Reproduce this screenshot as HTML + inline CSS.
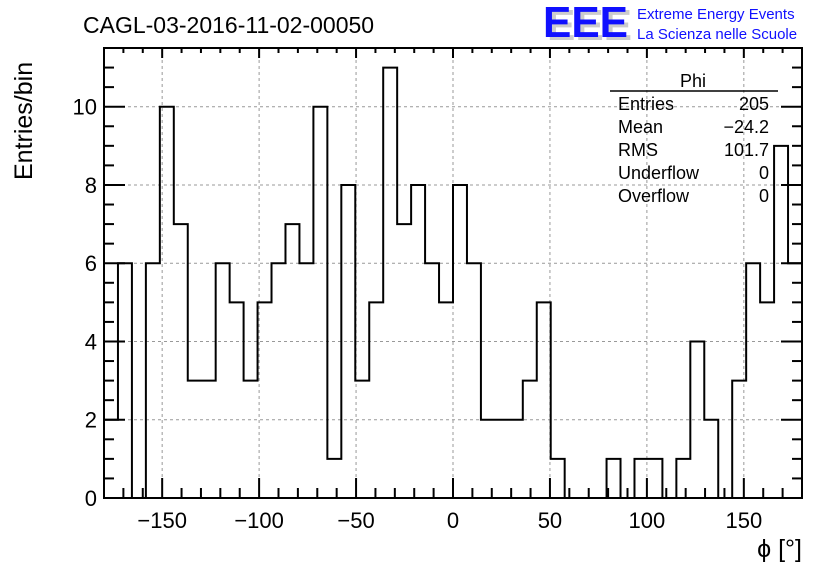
<!DOCTYPE html>
<html><head><meta charset="utf-8"><style>
html,body{margin:0;padding:0;background:#fff;}
svg{display:block;font-family:"Liberation Sans",sans-serif;}
</style></head><body>
<svg id="chart" width="836" height="572" viewBox="0 0 836 572" xmlns="http://www.w3.org/2000/svg">
<rect x="0" y="0" width="836" height="572" fill="#fff"/>
<text x="83" y="33" font-size="23" fill="#000">CAGL-03-2016-11-02-00050</text>
<g>
<text x="547" y="40" font-size="44" font-weight="bold" fill="#ccc" textLength="85" lengthAdjust="spacingAndGlyphs">EEE</text>
<text x="543" y="37" font-size="44" font-weight="bold" fill="#1010ff" textLength="85" lengthAdjust="spacingAndGlyphs">EEE</text>
<text x="637" y="19" font-size="15" fill="#1010ff">Extreme Energy Events</text>
<text x="637" y="39" font-size="15" fill="#1010ff">La Scienza nelle Scuole</text>
</g>
<g id="grid"></g>
<g id="axes"></g>
<path id="hist" fill="none" stroke="#000" stroke-width="2"/>
<rect x="104" y="48" width="698" height="450" fill="none" stroke="#000" stroke-width="2"/>
<text transform="translate(32,180) rotate(-90)" font-size="25" fill="#000">Entries/bin</text>
<text x="802" y="557" font-size="25" text-anchor="end" fill="#000">ϕ [°]</text>
<g font-size="18" fill="#000">
<text x="693" y="87" text-anchor="middle">Phi</text>
<line x1="610" y1="91" x2="778" y2="91" stroke="#000" stroke-width="1.5"/>
<text x="618" y="110">Entries</text><text x="769" y="110" text-anchor="end">205</text>
<text x="618" y="133">Mean</text><text x="769" y="133" text-anchor="end">−24.2</text>
<text x="618" y="156">RMS</text><text x="769" y="156" text-anchor="end">101.7</text>
<text x="618" y="179">Underflow</text><text x="769" y="179" text-anchor="end">0</text>
<text x="618" y="202">Overflow</text><text x="769" y="202" text-anchor="end">0</text>
</g>
</svg>
<script>
const counts = [2,6,0,6,10,7,3,3,6,5,3,5,6,7,6,10,1,8,3,5,11,7,8,6,5,8,6,2,2,2,3,5,1,0,0,0,1,0,1,1,0,1,4,2,0,3,6,5,9,6];
const xTicks = [-150,-100,-50,0,50,100,150];
const yTicks = [0,2,4,6,8,10];
const xMin=-180, xMax=180, yMin=0, yMax=11.5;
const L=104,R=802,T=48,B=498;
const NS="http://www.w3.org/2000/svg";
function sx(v){return L+(v-xMin)/(xMax-xMin)*(R-L);}
function sy(v){return B-(v-yMin)/(yMax-yMin)*(B-T);}
function mk(tag,attrs,parent){const e=document.createElementNS(NS,tag);for(const k in attrs)e.setAttribute(k,attrs[k]);parent.appendChild(e);return e;}
const grid=document.getElementById('grid'), axes=document.getElementById('axes');
xTicks.forEach(v=>{
  const g=mk('line',{x1:sx(v),x2:sx(v),y1:T,y2:B,stroke:'#999','stroke-dasharray':'3,3','stroke-width':1},grid);
  
  
  const t=mk('text',{x:sx(v),y:528,'font-size':22,'text-anchor':'middle',fill:'#000'},axes);
  t.textContent=v<0?'−'+Math.abs(v):String(v);
  
  
});
yTicks.forEach(v=>{
  if(v>0){const g=mk('line',{x1:L,x2:R,y1:sy(v),y2:sy(v),stroke:'#999','stroke-dasharray':'3,3','stroke-width':1},grid);
  
  }
  const t=mk('text',{x:97,y:sy(v)+8,'font-size':22,'text-anchor':'end',fill:'#000'},axes);
  t.textContent=String(v);
  
  
});
// x ticks every 10, major every 50
for(let v=-170;v<=170;v+=10){
  const len=(v%50===0)?20:10;
  const a=mk('line',{x1:sx(v),x2:sx(v),y1:B,y2:B-len,stroke:'#000','stroke-width':2},axes);
  
  
  const b=mk('line',{x1:sx(v),x2:sx(v),y1:T,y2:T+len*0.5,stroke:'#000','stroke-width':2},axes);
  
  
}
// y ticks every 0.5, major every 2
for(let v=0.5;v<=11.5;v+=0.5){
  const len=(Math.abs(v%2)<1e-6)?21:10;
  const a=mk('line',{x1:L,x2:L+len,y1:sy(v),y2:sy(v),stroke:'#000','stroke-width':2},axes);
  
  
  const b=mk('line',{x1:R,x2:R-len,y1:sy(v),y2:sy(v),stroke:'#000','stroke-width':2},axes);
  
  
}
const bw=(xMax-xMin)/counts.length;
let d='M'+sx(xMin)+','+sy(0);
counts.forEach((c,i)=>{
  const x0=sx(xMin+i*bw), x1=sx(xMin+(i+1)*bw);
  d+=' L'+x0+','+sy(c)+' L'+x1+','+sy(c);
});
d+=' L'+sx(xMax)+','+sy(0);
document.getElementById('hist').setAttribute('d',d);
</script>
</body></html>
